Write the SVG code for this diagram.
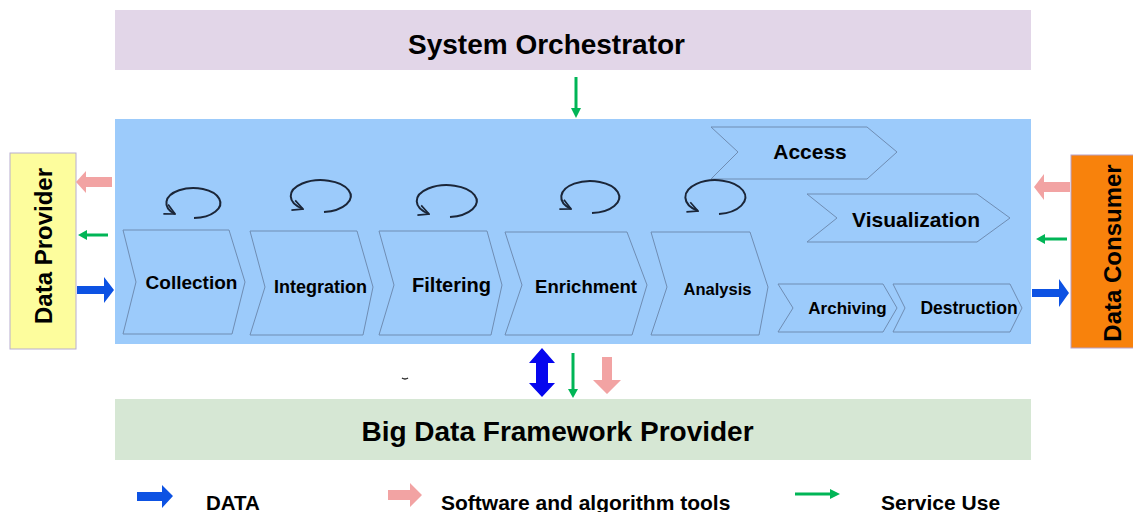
<svg xmlns="http://www.w3.org/2000/svg" width="1133" height="512" viewBox="0 0 1133 512">
<defs>
<style>
text{font-family:"Liberation Sans",Arial,sans-serif;font-weight:bold;fill:#000}
.chev{fill:#9ccbfb;stroke:#6f8db3;stroke-width:1}
.loop{fill:none;stroke:#1b2638;stroke-width:2;marker-end:url(#open)}
.pink{fill:#f2a3a3}
.blue{fill:#0d52e3}
.green{stroke:#00b556;stroke-width:3;fill:none}
.gh{fill:#00b556}
</style>
<marker id="open" viewBox="0 0 10 10" refX="9" refY="5" markerWidth="6.5" markerHeight="6.5" orient="auto" markerUnits="strokeWidth">
<path d="M1,1 L9,5 L1,9" fill="none" stroke="#1b2638" stroke-width="1.3"/>
</marker>
</defs>
<rect width="1133" height="512" fill="#ffffff"/>

<g id="orchestrator">
<rect x="115" y="10" width="916" height="60" fill="#e2d6e8"/>
<text x="546.5" y="54" font-size="28" text-anchor="middle">System Orchestrator</text>
</g>

<g id="application-provider">
<rect x="115" y="119" width="916" height="225" fill="#9ccbfb"/>
</g>

<g id="data-provider">
<rect x="10" y="153" width="66" height="196" fill="#fdfd9d" stroke="#b8aed0" stroke-width="1"/>
<text transform="translate(52,246) rotate(-90)" font-size="24" text-anchor="middle">Data Provider</text>
</g>

<g id="data-consumer">
<rect x="1071" y="155" width="66" height="193" fill="#f8820c" stroke="#b8a0c8" stroke-width="1"/>
<text transform="translate(1121,253) rotate(-90)" font-size="24" text-anchor="middle">Data Consumer</text>
</g>

<g id="framework-provider">
<rect x="115" y="399" width="916" height="61" fill="#d6e7d4"/>
<text x="557.5" y="441" font-size="28" text-anchor="middle">Big Data Framework Provider</text>
</g>

<g id="collection">
<polygon class="chev" points="123,230 229,230 245,282 232,334 123,334 136,282"/>
<text x="191.5" y="289" font-size="19" text-anchor="middle">Collection</text>
</g>
<g id="integration">
<polygon class="chev" points="250,231 357,231 373,287 363,335 250,335 265,287"/>
<text x="320.5" y="293" font-size="18" text-anchor="middle">Integration</text>
</g>
<g id="filtering">
<polygon class="chev" points="379,231 487,231 502,285 491,335 379,335 394,285"/>
<text x="451.5" y="292" font-size="20" text-anchor="middle">Filtering</text>
</g>
<g id="enrichment">
<polygon class="chev" points="505,232 627,232 647,285 632,335 505,335 522,285"/>
<text x="586" y="293" font-size="18.5" text-anchor="middle">Enrichment</text>
</g>
<g id="analysis">
<polygon class="chev" points="651,232 750,232 768,287 759,335 651,335 667,287"/>
<text x="717.5" y="295" font-size="16.5" text-anchor="middle">Analysis</text>
</g>
<g id="access">
<polygon class="chev" points="711,127 867,127 897,152 867,179 711,179 738,152"/>
<text x="810" y="159" font-size="21" text-anchor="middle">Access</text>
</g>
<g id="visualization">
<polygon class="chev" points="807,194 977,194 1010,218 977,242 807,242 837,218"/>
<text x="916" y="227" font-size="21" text-anchor="middle">Visualization</text>
</g>
<g id="archiving">
<polygon class="chev" points="778,284 883,284 897,308 883,332 778,332 793,308"/>
<text x="847.5" y="314" font-size="17" text-anchor="middle">Archiving</text>
</g>
<g id="destruction">
<polygon class="chev" points="893,284 1010,284 1022,308 1010,332 893,332 905,308"/>
<text x="969" y="314" font-size="17.5" text-anchor="middle">Destruction</text>
</g>

<g id="loops">
<path class="loop" d="M194,218 A27,15 0 1 0 175,214"/>
<path class="loop" d="M324,212 A30,16 0 1 0 303,209"/>
<path class="loop" d="M450,217 A30,16 0 1 0 429,214"/>
<path class="loop" d="M592,213 A29,16 0 1 0 571,209"/>
<path class="loop" d="M719,214 A30,17 0 1 0 698,211"/>
</g>

<g id="connectors">
<line class="green" x1="576" y1="77" x2="576" y2="109"/>
<polygon class="gh" points="571,108 581,108 576,118"/>

<polygon class="pink" points="112,177 86,177 86,171 76,182 86,193 86,187 112,187"/>
<line class="green" x1="108" y1="235" x2="85" y2="235"/>
<polygon class="gh" points="78,235 87,230 87,240"/>
<polygon class="blue" points="77,286 104,286 104,277 114,290 104,303 104,294 77,294"/>

<polygon class="pink" points="1070,182 1044,182 1044,174 1034,187 1044,200 1044,192 1070,192"/>
<line class="green" x1="1067" y1="239" x2="1043" y2="239"/>
<polygon class="gh" points="1036,239 1045,234 1045,244"/>
<polygon class="blue" points="1032,289 1059,289 1059,279 1069,293 1059,307 1059,297 1032,297"/>

<polygon fill="#0606ee" points="542,348 555,363 548,363 548,383 555,383 542,397 529,383 536,383 536,363 529,363"/>
<line class="green" x1="573" y1="353" x2="573" y2="390"/>
<polygon class="gh" points="568,389 578,389 573,398"/>
<polygon class="pink" points="602,357 612,357 612,380 621,380 607,394 593,380 602,380"/>
<path d="M402,378 q3,2 6,0" fill="none" stroke="#222" stroke-width="1.5"/>
</g>

<g id="legend">
<polygon class="blue" points="137,492 162,492 162,485 173,496 162,508 162,501 137,501"/>
<text x="206" y="510" font-size="20.5">DATA</text>
<polygon class="pink" points="388,490 410,490 410,483 422,495 410,507 410,500 388,500"/>
<text x="441" y="510" font-size="21">Software and algorithm tools</text>
<line class="green" x1="795" y1="494" x2="832" y2="494"/>
<polygon class="gh" points="830,489 840,494 830,499"/>
<text x="881" y="510" font-size="21">Service Use</text>
</g>
</svg>
